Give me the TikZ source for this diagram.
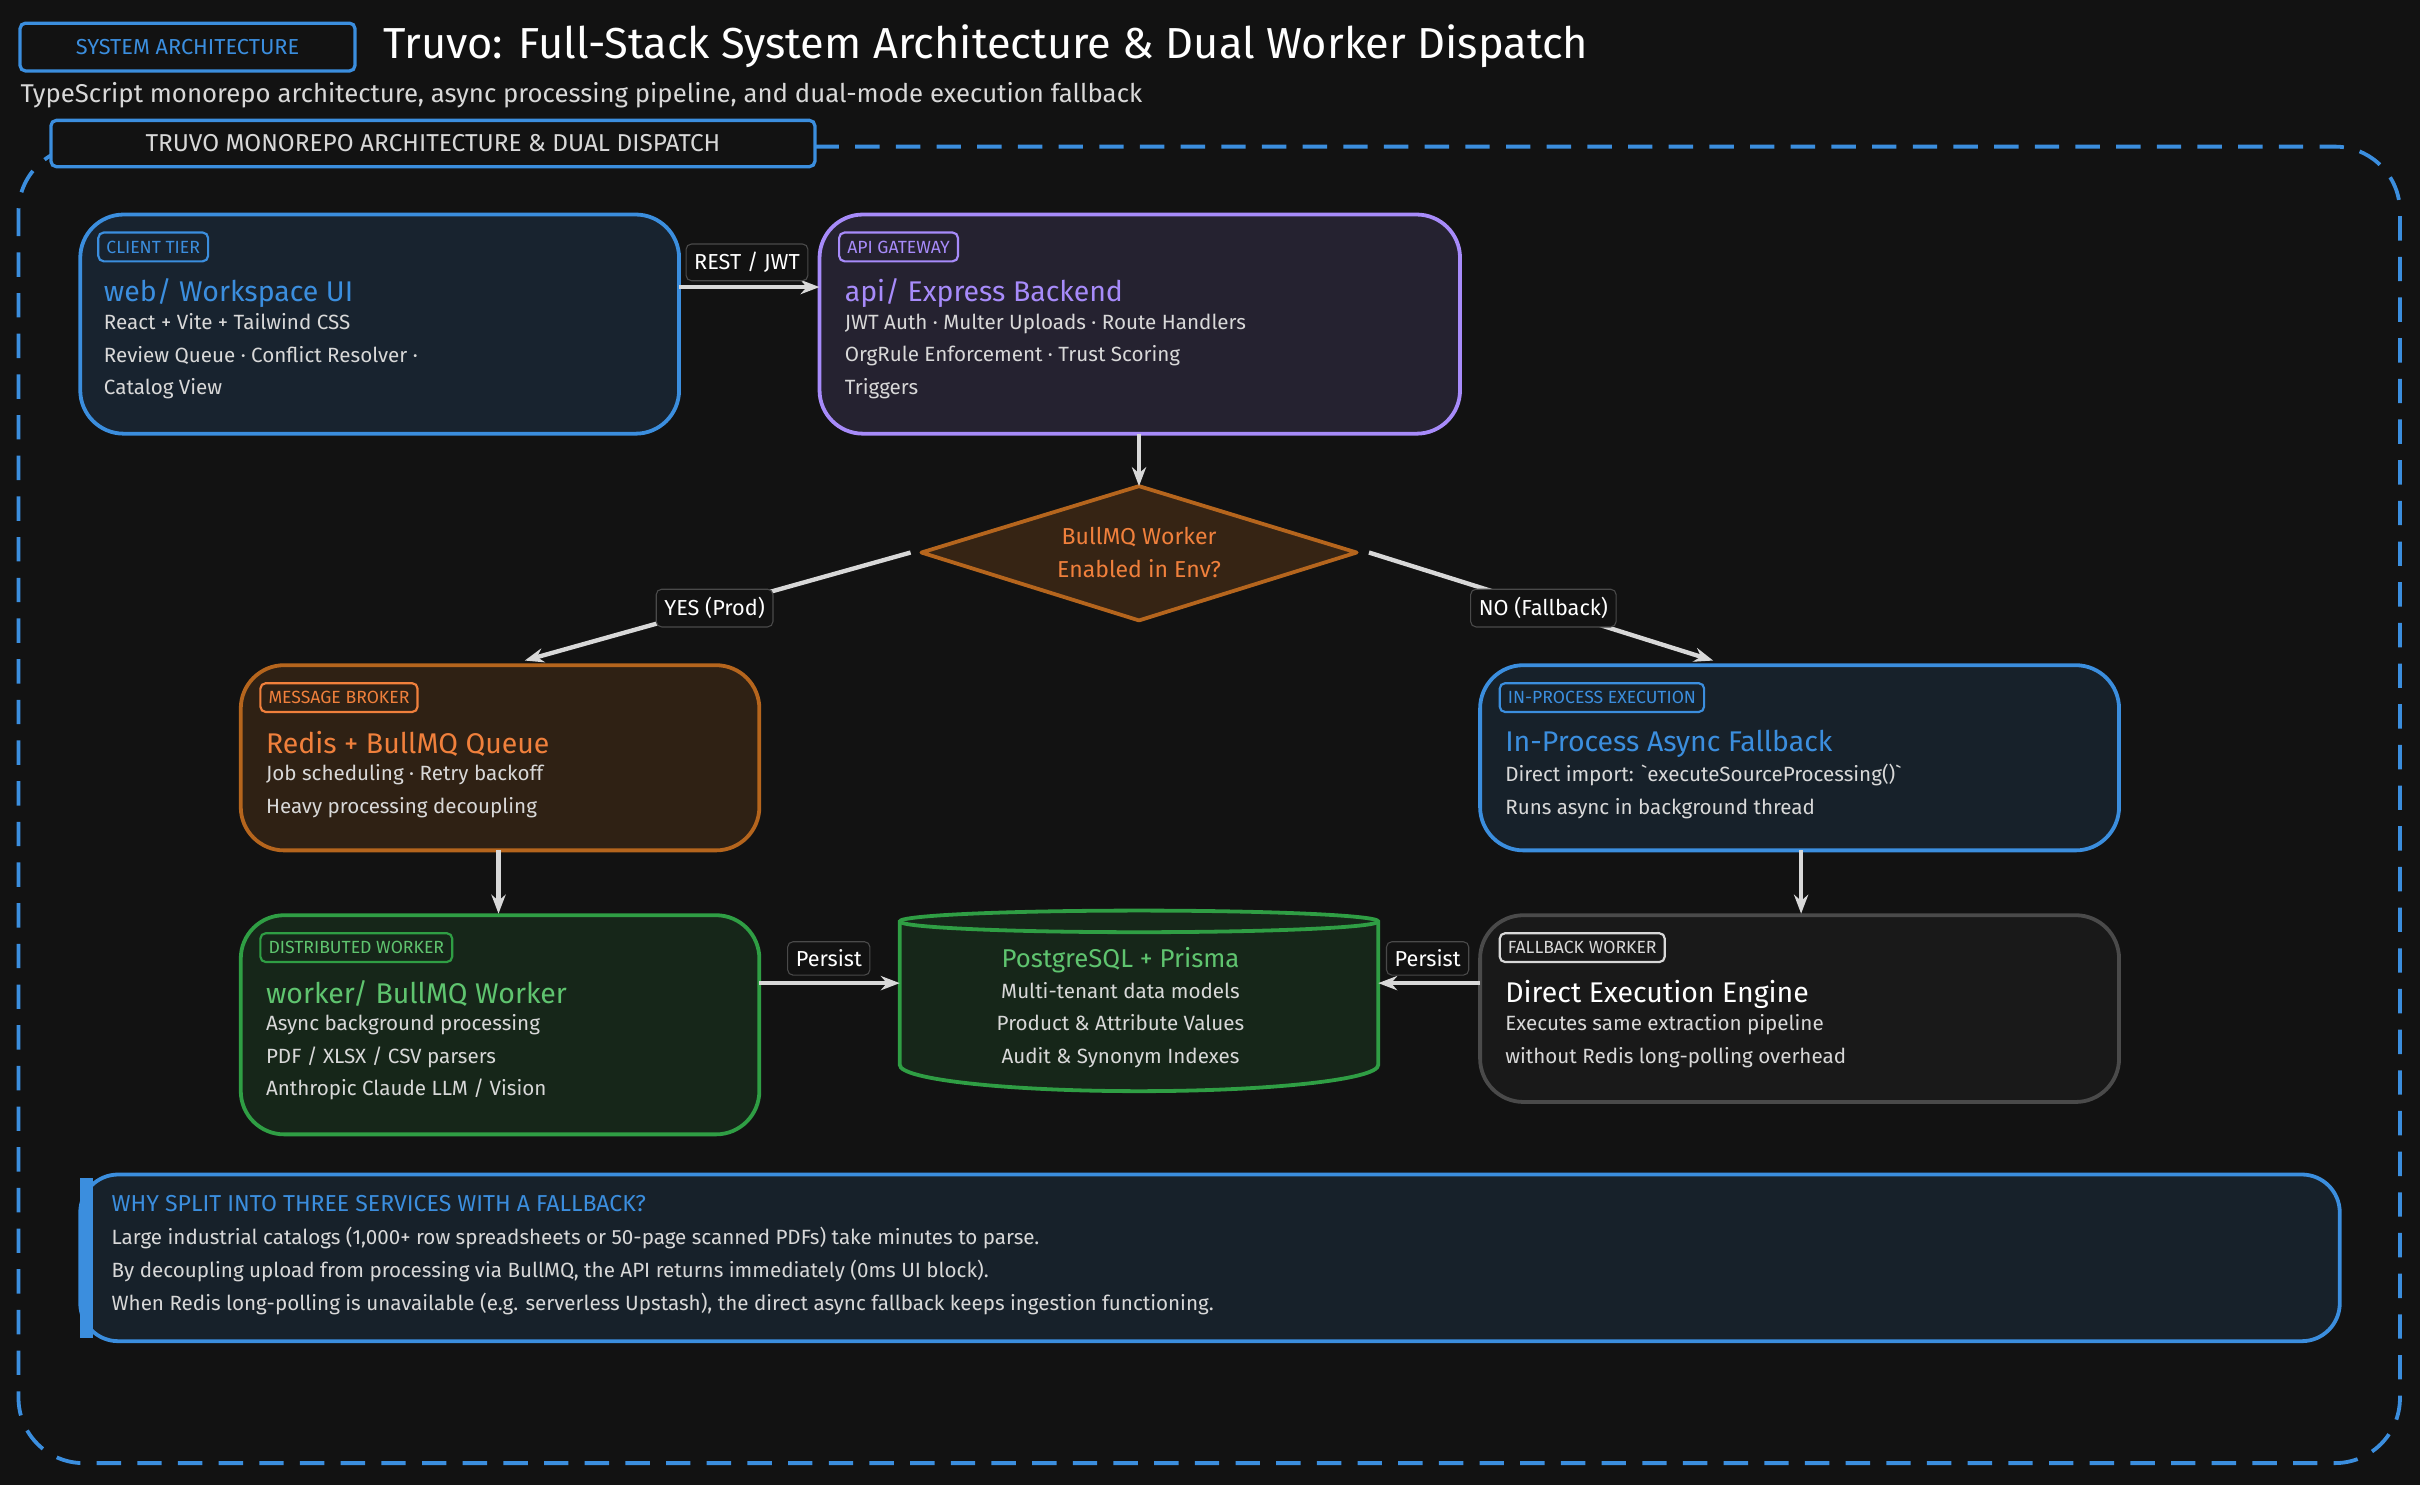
\documentclass[tikz,border=0pt]{standalone}
\usepackage{fontspec}
\setmainfont{Fira Sans}
\usetikzlibrary{arrows.meta,shapes.geometric,positioning}
\definecolor{bg}{HTML}{121212}
\definecolor{cblue}{HTML}{3b8ede}
\definecolor{cpurple}{HTML}{a78bfa}
\definecolor{corange}{HTML}{f0803c}
\definecolor{cbrown}{HTML}{b5651d}
\definecolor{cgreen}{HTML}{2f9e44}
\definecolor{lgreen}{HTML}{5fc46f}
\definecolor{cgrey}{HTML}{4a4a4a}
\definecolor{txt}{HTML}{d8d8d8}
\tikzset{
  box/.style={draw=#1, line width=1.4pt, rounded corners=16pt},
  tag/.style={draw=#1, line width=0.8pt, rounded corners=2pt, text=#1, font=\fontsize{6.5}{7}\selectfont, inner sep=3pt, anchor=west},
  ttl/.style={anchor=west, text=#1, font=\fontsize{10.5}{12}\selectfont, inner sep=0pt},
  body/.style={anchor=north west, text=txt, font=\fontsize{7.6}{12}\selectfont, align=left, inner sep=0pt},
  lbl/.style={draw=cgrey, fill=bg, text=white, rounded corners=2pt, font=\fontsize{8}{9}\selectfont, inner sep=3pt},
  flow/.style={-{Stealth[length=7pt]}, line width=1.6pt, draw=txt},
}
\begin{document}
\begin{tikzpicture}[x=0.02cm,y=-0.02cm]
\fill[bg] (0,0) rectangle (1568,962);
\useasboundingbox (0,0) rectangle (1568,962);

% Header
\node[draw=cblue, line width=1.2pt, rounded corners=2pt, text=cblue, font=\fontsize{8}{9}\selectfont, minimum width=217*0.02cm, minimum height=31*0.02cm] (systag) at (121.5,30.5) {SYSTEM ARCHITECTURE};
\node[anchor=west, text=white, font=\fontsize{16}{18}\selectfont, inner sep=0pt] (title) at (248,30) {Truvo: Full-Stack System Architecture \& Dual Worker Dispatch};
\node[anchor=west, text=txt, font=\fontsize{9.5}{11}\selectfont, inner sep=0pt] (subtitle) at (13,62) {TypeScript monorepo architecture, async processing pipeline, and dual-mode execution fallback};

% Frame
\draw[cblue, line width=1.4pt, dash pattern=on 9pt off 6pt, rounded corners=24pt] (12,95) rectangle (1555,948);
\node[draw=cblue, fill=bg, line width=1.2pt, rounded corners=2pt, text=txt, font=\fontsize{9}{10}\selectfont, minimum width=495*0.02cm, minimum height=30*0.02cm] (frametag) at (280.5,93) {TRUVO MONOREPO ARCHITECTURE \& DUAL DISPATCH};

% Client
\draw[box=cblue, fill=cblue!14!bg] (52,139) rectangle (440,281);
\node[tag=cblue] (clienttag) at (63,160) {CLIENT TIER};
\node[ttl=cblue] (client) at (67,190) {web/ Workspace UI};
\node[body] at (67,203) {React + Vite + Tailwind CSS\\Review Queue · Conflict Resolver ·\\Catalog View};

% API
\draw[box=cpurple, fill=cpurple!13!bg] (531,139) rectangle (946,281);
\node[tag=cpurple] (apitag) at (543,160) {API GATEWAY};
\node[ttl=cpurple] (api) at (547,190) {api/ Express Backend};
\node[body] at (547,203) {JWT Auth · Multer Uploads · Route Handlers\\OrgRule Enforcement · Trust Scoring\\Triggers};
\coordinate (clientR) at (440,186);
\coordinate (apiL) at (531,186);
\draw[flow] (clientR) -- (apiL);
\node[lbl] (rest) at (484,170) {REST / JWT};

% Decision
\draw[draw=cbrown, fill=cbrown!22!bg, line width=1.4pt, line join=round] (597,358) -- (738,315) -- (879,358) -- (738,402) -- cycle;
\node[text=corange, font=\fontsize{8.5}{12}\selectfont, align=center, inner sep=0pt] (dec) at (738,358) {BullMQ Worker\\Enabled in Env?};
\coordinate (apiB) at (738,281);
\coordinate (decT) at (738,315);
\coordinate (decL) at (590,358);
\coordinate (decR) at (887,358);
\draw[flow] (apiB) -- (decT);

% Redis
\draw[box=cbrown, fill=cbrown!18!bg] (156,431) rectangle (492,551);
\node[tag=corange] (redistag) at (168,452) {MESSAGE BROKER};
\node[ttl=corange] (redis) at (172,482) {Redis + BullMQ Queue};
\node[body] at (172,495) {Job scheduling · Retry backoff\\Heavy processing decoupling};

% In-process
\draw[box=cblue, fill=cblue!12!bg] (959,431) rectangle (1373,551);
\node[tag=cblue] (inproctag) at (971,452) {IN-PROCESS EXECUTION};
\node[ttl=cblue] (inproc) at (975,482) {In-Process Async Fallback};
\node[body] at (975,495) {Direct import: \textasciigrave executeSourceProcessing()\textasciigrave\\Runs async in background thread};

\coordinate (redisT) at (340,428);
\coordinate (inprocT) at (1110,428);
\draw[flow] (decL) -- (redisT);
\draw[flow] (decR) -- (inprocT);
\node[lbl] (yes) at (463,394) {YES (Prod)};
\node[lbl] (no) at (1000,394) {NO (Fallback)};

% Worker
\draw[box=cgreen, fill=cgreen!14!bg] (156,593) rectangle (492,735);
\node[tag=cgreen, text=lgreen] (workertag) at (168,614) {DISTRIBUTED WORKER};
\node[ttl=lgreen] (worker) at (172,644) {worker/ BullMQ Worker};
\node[body] at (172,657) {Async background processing\\PDF / XLSX / CSV parsers\\Anthropic Claude LLM / Vision};

% Postgres
\draw[draw=cgreen, fill=cgreen!14!bg, line width=1.4pt] (583,597) -- (583,690) arc[start angle=180, end angle=360, x radius=155, y radius=-17] -- (893,597) arc[start angle=0, end angle=180, x radius=155, y radius=-7] -- cycle;
\draw[draw=cgreen, line width=1.4pt] (583,597) arc[start angle=180, end angle=360, x radius=155, y radius=-7];
\node[text=lgreen, font=\fontsize{9.5}{11}\selectfont, inner sep=0pt] (db) at (726,622) {PostgreSQL + Prisma};
\node[text=txt, font=\fontsize{7.6}{12}\selectfont, align=center, anchor=north, inner sep=0pt] at (726,636) {Multi-tenant data models\\Product \& Attribute Values\\Audit \& Synonym Indexes};

% Fallback
\draw[box=cgrey, fill=white!3!bg] (959,593) rectangle (1373,714);
\node[tag=txt] (fbtag) at (971,614) {FALLBACK WORKER};
\node[ttl=white] (fb) at (975,644) {Direct Execution Engine};
\node[body] at (975,657) {Executes same extraction pipeline\\without Redis long-polling overhead};

\coordinate (redisB) at (323,551);
\coordinate (workerT) at (323,592);
\coordinate (inprocB) at (1167,551);
\coordinate (fbT) at (1167,592);
\draw[flow] (redisB) -- (workerT);
\draw[flow] (inprocB) -- (fbT);
\coordinate (workerR) at (492,637);
\coordinate (dbL) at (583,637);
\coordinate (fbL) at (959,637);
\coordinate (dbR) at (893,637);
\draw[flow] (workerR) -- (dbL);
\draw[flow] (fbL) -- (dbR);
\node[lbl] (persistL) at (537,621) {Persist};
\node[lbl] (persistR) at (925,621) {Persist};

% Info
\draw[box=cblue, fill=cblue!12!bg, rounded corners=14pt] (52,761) rectangle (1516,869);
\fill[cblue] (52,763) rectangle (60,867);
\node[anchor=west, text=cblue, font=\fontsize{8.5}{10}\selectfont, inner sep=0pt] (why) at (72,780) {WHY SPLIT INTO THREE SERVICES WITH A FALLBACK?};
\node[body] at (72,795) {Large industrial catalogs (1,000+ row spreadsheets or 50-page scanned PDFs) take minutes to parse.\\By decoupling upload from processing via BullMQ, the API returns immediately (0ms UI block).\\When Redis long-polling is unavailable (e.g. serverless Upstash), the direct async fallback keeps ingestion functioning.};
\end{tikzpicture}
\end{document}
